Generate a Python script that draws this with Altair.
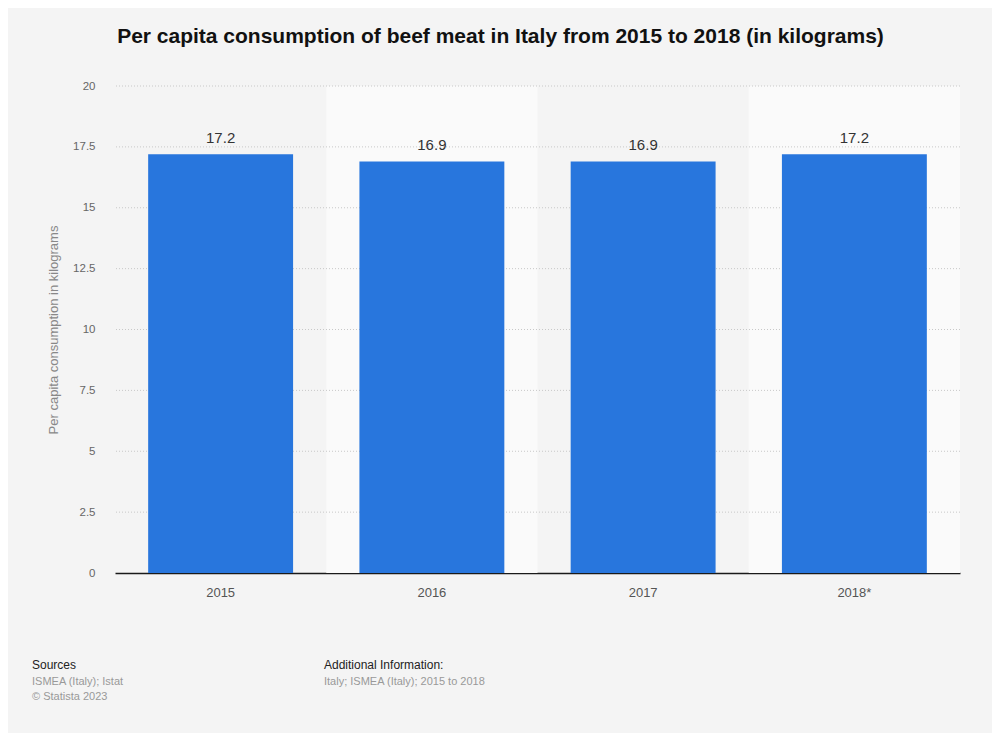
import altair as alt
import pandas as pd

years = ["2015", "2016", "2017", "2018*"]
values = [17.2, 16.9, 16.9, 17.2]
y_ticks = [0, 2.5, 5, 7.5, 10, 12.5, 15, 17.5, 20]

title_text = "Per capita consumption of beef meat in Italy from 2015 to 2018 (in kilograms)"
y_title = "Per capita consumption in kilograms"
sources_head = "Sources"
sources_lines = ["ISMEA (Italy); Istat", "© Statista 2023"]
info_head = "Additional Information:"
info_lines = ["Italy; ISMEA (Italy); 2015 to 2018"]

df = pd.DataFrame({"year": years, "value": values})
df["shade"] = [i % 2 == 1 for i in range(len(years))]
ticks_df = pd.DataFrame({"t": y_ticks})
one = pd.DataFrame({"a": [0]})

FONT = "Liberation Sans"
W, H = 845, 487

x_enc = alt.X(
    "year:N",
    sort=years,
    title=None,
    scale=alt.Scale(paddingInner=0, paddingOuter=0),
    axis=alt.Axis(
        labelFont=FONT, labelFontSize=13, labelColor="#555555",
        labelPadding=13, ticks=False, domain=True,
        domainColor="#1a1a1a", domainWidth=1.5, labelAngle=0,
    ),
)
y_scale = alt.Scale(domain=[0, 20], nice=False)
y_axis = alt.Axis(
    values=y_ticks, grid=False, domain=False, ticks=False,
    labelExpr="'' + datum.value",
    labelFont=FONT, labelFontSize=11.5, labelColor="#666666",
    labelPadding=20, titleFont=FONT, titleFontSize=13,
    titleFontWeight="normal", titleColor="#888888", titlePadding=12,
)

base = alt.Chart(df)

shade = base.transform_filter("datum.shade").mark_bar(color="#fafafa").encode(
    x=x_enc,
    y=alt.Y(datum=0, type="quantitative", scale=y_scale, title=y_title, axis=y_axis),
    y2=alt.Y2(datum=20),
)

grid = alt.Chart(ticks_df).transform_filter("datum.t > 0").mark_rule(
    color="#c8c8c8", strokeDash=[1, 2], strokeWidth=1
).encode(y=alt.Y("t:Q", scale=y_scale, title=y_title, axis=y_axis))

bars = base.mark_bar(color="#2876dd", width=alt.RelativeBandSize(0.686)).encode(
    x=x_enc,
    y=alt.Y("value:Q", scale=y_scale, title=y_title, axis=y_axis),
)

labels = base.mark_text(
    font=FONT, fontSize=15, color="#333333", baseline="alphabetic", dy=-11
).encode(
    x=x_enc,
    y=alt.Y("value:Q", scale=y_scale, title=y_title, axis=y_axis),
    text=alt.Text("value:Q", format=".1f"),
)

def foot(text, x, y, size, color, line_height=15):
    return alt.Chart(one).mark_text(
        text=text, font=FONT, fontSize=size, color=color,
        align="left", baseline="middle", lineHeight=line_height,
    ).encode(x=alt.value(x), y=alt.value(y))

footer = [
    foot(sources_head, 32 - 115, 665 - 86, 12, "#222222"),
    foot(sources_lines, 32 - 115, 682 - 86, 11, "#999999"),
    foot(info_head, 324 - 115, 665 - 86, 12, "#222222"),
    foot(info_lines, 324 - 115, 682 - 86, 11, "#999999"),
]

chart = alt.layer(shade, grid, bars, labels, *footer).properties(
    width=W,
    height=H,
    title=alt.TitleParams(
        text=title_text, font=FONT, fontSize=21, fontWeight="bold",
        color="#111111", anchor="middle", dx=-37, offset=33,
    ),
    background="#f4f4f4",
    autosize=alt.AutoSizeParams(type="none"),
    padding={"left": 107, "top": 78, "right": 32, "bottom": 160},
).configure_view(stroke=None)

chart.save("out.html", embed_options={"renderer": "svg", "actions": False})
